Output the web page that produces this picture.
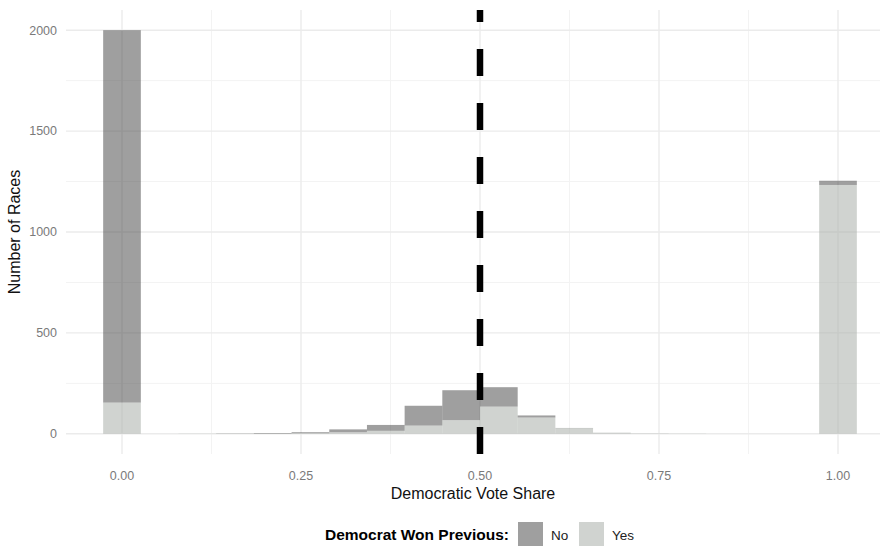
<!DOCTYPE html>
<html>
<head>
<meta charset="utf-8">
<script src="https://cdn.jsdelivr.net/npm/d3@7"></script>
<style>
  body { margin: 0; background: #fff; }
  text { font-family: "Liberation Sans", Arial, sans-serif; }
</style>
</head>
<body>
<div id="chart"></div>
<script>
// 20 bins, centred on k/19 (ggplot bins = 20)
const binCenters = d3.range(20).map((k) => k / 19);
const noCounts  = [1845, 0, 0, 1, 3, 5, 14, 29, 98, 148, 96, 10, 1, 0, 0, 0, 0, 0, 0, 21];
const yesCounts = [155, 0, 1, 1, 1, 3, 8, 15, 41, 68, 135, 81, 28, 6, 2, 1, 0, 0, 0, 1233];
const xTicks = [0, 0.25, 0.5, 0.75, 1];
const yTicks = [0, 500, 1000, 1500, 2000];
const groups = ["No", "Yes"];
const cutoff = 0.5;

var chart = {
  width: 890,
  height: 546,
  top: 10,
  bottom: 92,
  panelLeft: 66,
  panelRight: 880,
};

const svg = d3
  .select("#chart")
  .append("svg")
  .attr("width", chart.width)
  .attr("height", chart.height);

const binWidth = 1 / 19;

var x = d3
  .scaleLinear()
  .domain([0, 1])
  .range([122, 838]);

var y = d3
  .scaleLinear()
  .domain([-100, 2100])
  .range([chart.height - chart.bottom, chart.top]);

/* grid */
const grid = svg.append("g");
const xMinor = d3.range(0.125, 1, 0.25);
const yMinor = d3.range(250, 2000, 500);

grid.selectAll(".xmin").data(xMinor).join("line")
  .attr("x1", (d) => x(d)).attr("x2", (d) => x(d))
  .attr("y1", y.range()[0]).attr("y2", y.range()[1])
  .attr("stroke", "#f3f3f3").attr("stroke-width", 1);
grid.selectAll(".ymin").data(yMinor).join("line")
  .attr("x1", chart.panelLeft).attr("x2", chart.panelRight)
  .attr("y1", (d) => y(d)).attr("y2", (d) => y(d))
  .attr("stroke", "#f3f3f3").attr("stroke-width", 1);
grid.selectAll(".xmaj").data(xTicks).join("line")
  .attr("x1", (d) => x(d)).attr("x2", (d) => x(d))
  .attr("y1", y.range()[0]).attr("y2", y.range()[1])
  .attr("stroke", "#ebebeb").attr("stroke-width", 1.4);
grid.selectAll(".ymaj").data(yTicks).join("line")
  .attr("x1", chart.panelLeft).attr("x2", chart.panelRight)
  .attr("y1", (d) => y(d)).attr("y2", (d) => y(d))
  .attr("stroke", "#ebebeb").attr("stroke-width", 1.4);

/* stacked bars: Yes at the bottom, No on top */
const rows = binCenters.map((c, i) => ({ center: c, No: noCounts[i], Yes: yesCounts[i] }));
const stack = d3.stack().keys(["Yes", "No"])(rows);
const fills = { No: "rgba(70,70,70,0.52)", Yes: "rgba(170,174,170,0.55)" };

stack.forEach((layer) => {
  svg.append("g")
    .attr("fill", fills[layer.key])
    .selectAll("rect")
    .data(layer.filter((d) => d[1] - d[0] > 0))
    .join("rect")
    .attr("x", (d) => x(d.data.center - binWidth / 2))
    .attr("width", (d) => x(d.data.center + binWidth / 2) - x(d.data.center - binWidth / 2))
    .attr("y", (d) => y(d[1]))
    .attr("height", (d) => y(d[0]) - y(d[1]));
});

/* cutoff line, dashes drawn from the bottom up */
svg.append("line")
  .attr("x1", x(cutoff)).attr("x2", x(cutoff))
  .attr("y1", y.range()[0]).attr("y2", y.range()[1])
  .attr("stroke", "#000")
  .attr("stroke-width", 6.5)
  .attr("stroke-dasharray", "27,27");

/* axes */
svg.append("g")
  .selectAll("text")
  .data(xTicks)
  .join("text")
  .attr("x", (d) => x(d))
  .attr("y", chart.height - chart.bottom + 17)
  .attr("dy", "0.71em")
  .attr("text-anchor", "middle")
  .attr("font-size", 12.5)
  .attr("fill", "#7a7a7a")
  .text((d) => d3.format(".2f")(d));

svg.append("g")
  .selectAll("text")
  .data(yTicks)
  .join("text")
  .attr("x", chart.panelLeft - 9)
  .attr("y", (d) => y(d))
  .attr("dy", "0.35em")
  .attr("text-anchor", "end")
  .attr("font-size", 12.5)
  .attr("fill", "#7a7a7a")
  .text((d) => d);

svg.append("text")
  .attr("x", (chart.panelLeft + chart.panelRight) / 2)
  .attr("y", 499)
  .attr("text-anchor", "middle")
  .attr("font-size", 16)
  .attr("fill", "#111")
  .text("Democratic Vote Share");

svg.append("text")
  .attr("transform", `translate(20, ${(y.range()[0] + y.range()[1]) / 2}) rotate(-90)`)
  .attr("text-anchor", "middle")
  .attr("font-size", 16)
  .attr("fill", "#111")
  .text("Number of Races");

/* legend */
const legend = svg.append("g").attr("transform", "translate(0, 522)");
legend.append("text")
  .attr("x", 509).attr("y", 13).attr("dy", "0.35em")
  .attr("text-anchor", "end")
  .attr("font-size", 15.5)
  .attr("font-weight", "bold")
  .attr("fill", "#000")
  .text("Democrat Won Previous:");

const keyX = { No: 518, Yes: 579 };
groups.forEach((g) => {
  legend.append("rect")
    .attr("x", keyX[g]).attr("y", 0)
    .attr("width", 25).attr("height", 25)
    .attr("fill", fills[g]);
  legend.append("text")
    .attr("x", keyX[g] + 33).attr("y", 13).attr("dy", "0.35em")
    .attr("font-size", 13.5)
    .attr("fill", "#222")
    .text(g);
});
</script>
</body>
</html>
